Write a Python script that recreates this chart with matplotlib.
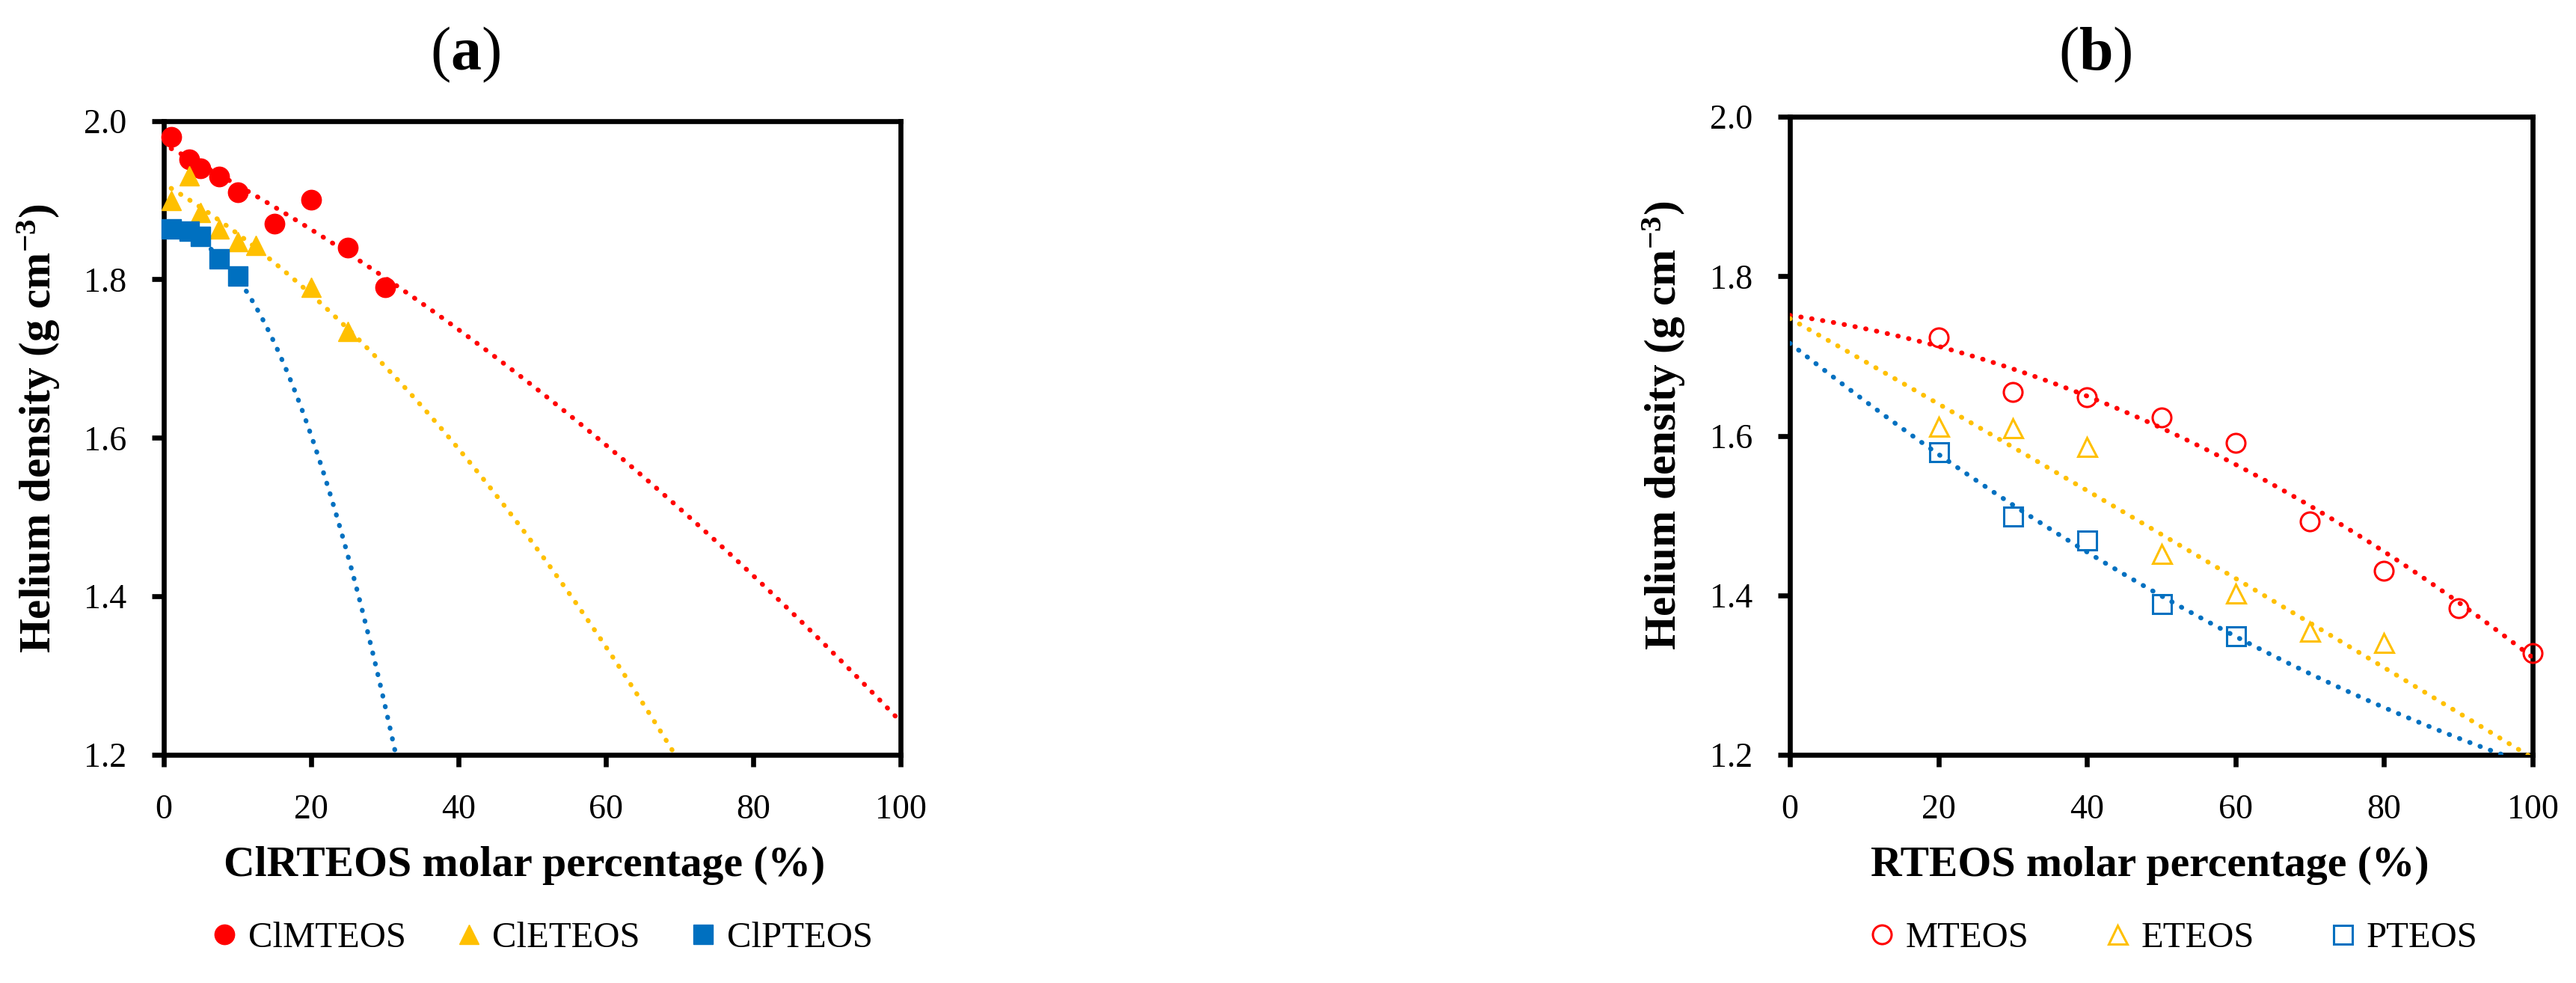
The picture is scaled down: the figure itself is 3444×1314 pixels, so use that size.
import numpy as np
import matplotlib
matplotlib.use('Agg')
import matplotlib.pyplot as plt

plt.rcParams['font.family'] = ['Liberation Serif', 'DejaVu Serif']
plt.rcParams['mathtext.fontset'] = 'custom'
plt.rcParams['mathtext.rm'] = 'Liberation Serif'
plt.rcParams['mathtext.bf'] = 'Liberation Serif:bold'
plt.rcParams['mathtext.it'] = 'Liberation Serif:italic'

# ---------------- data: panel (a) ----------------
a_x_clm = [1, 3.5, 5, 7.5, 10, 15, 20, 25, 30]
a_y_clm = [1.980, 1.951, 1.940, 1.930, 1.910, 1.870, 1.900, 1.840, 1.790]
a_x_cle = [1, 3.5, 5, 7.5, 10, 12.5, 20, 25]
a_y_cle = [1.899, 1.931, 1.884, 1.864, 1.848, 1.843, 1.790, 1.734]
a_x_clp = [1, 3.5, 5, 7.5, 10]
a_y_clp = [1.864, 1.861, 1.854, 1.826, 1.804]
# polynomial trendlines (x^2, x, 1)
a_trend_clm = [-2.4095e-5, -0.0048695, 1.96989]
a_trend_cle = [-6.889e-5, -0.0056001, 1.92047]
a_trend_clp = [-7.08e-4, 0.00141, 1.8581]
a_trend_range = [1, 100]
a_labels = ['ClMTEOS', 'ClETEOS', 'ClPTEOS']

# ---------------- data: panel (b) ----------------
b_x_m = [20, 30, 40, 50, 60, 70, 80, 90, 100]
b_y_m = [1.723, 1.655, 1.648, 1.623, 1.591, 1.493, 1.431, 1.384, 1.328]
b_x_e = [20, 30, 40, 50, 60, 70, 80]
b_y_e = [1.612, 1.610, 1.586, 1.452, 1.403, 1.355, 1.341]
b_x_p = [20, 30, 40, 50, 60]
b_y_p = [1.580, 1.499, 1.469, 1.389, 1.349]
b_trend_m = [-2.933e-5, -0.0013567, 1.751]
b_trend_e = [-2.0e-6, -0.00531, 1.747]
b_trend_p = [2.085e-5, -0.0073765, 1.716]
b_trend_range = [0, 100]
b_labels = ['MTEOS', 'ETEOS', 'PTEOS']

x_ticks = [0, 20, 40, 60, 80, 100]
y_ticks = [1.2, 1.4, 1.6, 1.8, 2.0]

RED, YEL, BLU = '#FF0000', '#FFC000', '#0070C0'

W, H = 3444, 1314
fig = plt.figure(figsize=(W / 100, H / 100), dpi=100)
ax_a = fig.add_axes([219 / W, 1 - 1009 / H, (1204 - 219) / W, (1009 - 161.5) / H])
ax_b = fig.add_axes([2393 / W, 1 - 1009 / H, (3386 - 2393) / W, (1009 - 156) / H])

TICK_FS = 33
LAB_FS = 41.5
LEG_FS = 35
MS = 19


def style_axes(ax):
    ax.set_xlim(0, 100)
    ax.set_ylim(1.2, 2.0)
    ax.set_xticks(x_ticks)
    ax.set_yticks(y_ticks)
    ax.set_xticklabels([str(v) for v in x_ticks])
    ax.set_yticklabels([f'{v:.1f}' for v in y_ticks])
    for s in ax.spines.values():
        s.set_linewidth(4.8)
        s.set_color('black')
    ax.tick_params(axis='both', direction='out', length=11.5, width=4.8,
                   labelsize=TICK_FS, color='black')
    ax.tick_params(axis='y', pad=24.5)
    ax.tick_params(axis='x', pad=26)


def trend(ax, coef, rng, color):
    xs = np.linspace(rng[0], rng[1], 400)
    ax.plot(xs, np.polyval(coef, xs), color=color, lw=4.6,
            linestyle=(0, (0.1, 2.2)), dash_capstyle='round', zorder=5)


# ---------------- panel (a) ----------------
style_axes(ax_a)
h1, = ax_a.plot(a_x_clm, a_y_clm, ls='none', marker='o', ms=MS, color=RED, mec=RED,
                zorder=3, clip_on=False)
h2, = ax_a.plot(a_x_cle, a_y_cle, ls='none', marker='^', ms=MS, color=YEL, mec=YEL,
                zorder=3, clip_on=False)
h3, = ax_a.plot(a_x_clp, a_y_clp, ls='none', marker='s', ms=MS - 0.5, color=BLU, mec=BLU,
                zorder=3, clip_on=False)
trend(ax_a, a_trend_clm, a_trend_range, RED)
trend(ax_a, a_trend_cle, a_trend_range, YEL)
trend(ax_a, a_trend_clp, a_trend_range, BLU)
ax_a.set_xlabel('ClRTEOS molar percentage (%)', fontsize=LAB_FS, fontweight='bold', va='center')
ax_a.xaxis.set_label_coords(0.489, -0.1746)
ax_a.set_ylabel('Helium density (g cm$^{\\mathbf{-3}}$)', fontsize=LAB_FS + 1,
                fontweight='bold', va='center')
ax_a.yaxis.set_label_coords(-0.170, 0.5145)
ax_a.legend([h1, h2, h3], a_labels, loc='center', bbox_to_anchor=(726 / W, 0.0457),
            bbox_transform=fig.transFigure, ncol=3, frameon=False, fontsize=LEG_FS,
            handlelength=0.6, handletextpad=0.35, columnspacing=1.43)

# ---------------- panel (b) ----------------
style_axes(ax_b)
g1, = ax_b.plot(b_x_m, b_y_m, ls='none', marker='o', ms=MS - 1, mfc='none', mec=RED, mew=2.2,
                zorder=3, clip_on=False)
g2, = ax_b.plot(b_x_e, b_y_e, ls='none', marker='^', ms=MS - 1, mfc='none', mec=YEL, mew=2.2,
                zorder=3, clip_on=False)
g3, = ax_b.plot(b_x_p, b_y_p, ls='none', marker='s', ms=MS - 1, mfc='none', mec=BLU, mew=2.2,
                zorder=3, clip_on=False)
trend(ax_b, b_trend_m, b_trend_range, RED)
trend(ax_b, b_trend_e, b_trend_range, YEL)
trend(ax_b, b_trend_p, b_trend_range, BLU)
ax_b.set_xlabel('RTEOS molar percentage (%)', fontsize=LAB_FS, fontweight='bold', va='center')
ax_b.xaxis.set_label_coords(0.485, -0.1735)
ax_b.set_ylabel('Helium density (g cm$^{\\mathbf{-3}}$)', fontsize=LAB_FS + 1,
                fontweight='bold', va='center')
ax_b.yaxis.set_label_coords(-0.170, 0.516)
ax_b.legend([g1, g2, g3], b_labels, loc='center', bbox_to_anchor=(2907 / W, 0.0457),
            bbox_transform=fig.transFigure, ncol=3, frameon=False, fontsize=LEG_FS,
            handlelength=0.6, handletextpad=0.35, columnspacing=2.13)

# ---------------- panel titles ----------------
fig.text(622 / W, 1 - 73 / H, '($\\mathbf{a}$)', fontsize=59, ha='center', va='center')
fig.text(2801 / W, 1 - 73 / H, '($\\mathbf{b}$)', fontsize=59, ha='center', va='center')

fig.savefig('out.png', dpi=100)
